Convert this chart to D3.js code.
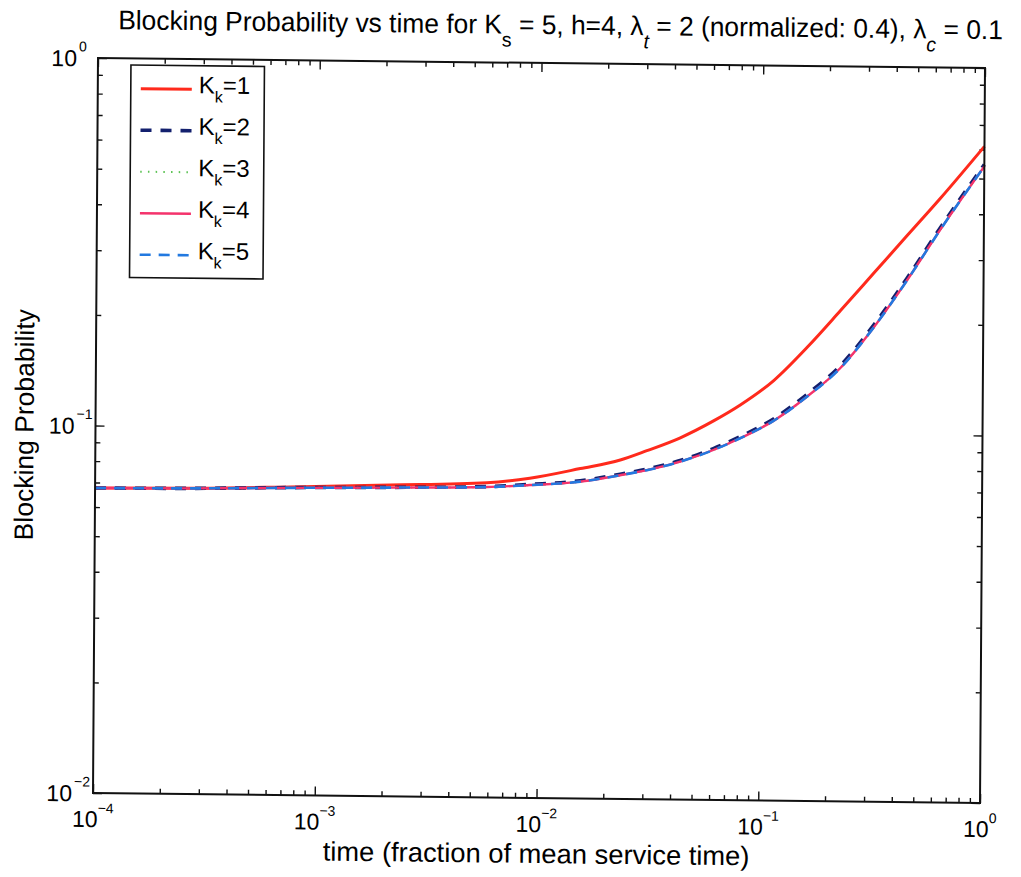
<!DOCTYPE html>
<html>
<head>
<meta charset="utf-8">
<script src="https://cdn.jsdelivr.net/npm/d3@7"></script>
<style>
body { margin: 0; background: #fff; }
text { font-family: "Liberation Sans", Arial, Helvetica, sans-serif; fill: #000; }
</style>
</head>
<body>
<svg id="chart" width="1021" height="877"></svg>
<script>
// values (time axis is log, prob axis is log)
var times = [1e-4, 2.68e-4, 7.59e-4, 2.14e-3, 5.85e-3, 9.12e-3, 0.0154, 0.0233, 0.0307, 0.0434,
             0.0612, 0.0807, 0.114, 0.161, 0.227, 0.320, 0.451, 0.634, 1.0];
var kk1 = [0.0676, 0.0679, 0.0690, 0.0703, 0.0718, 0.0741, 0.0790, 0.0836, 0.0888, 0.0965,
           0.1075, 0.1190, 0.1390, 0.1716, 0.2165, 0.2745, 0.3480, 0.4400, 0.612];
var kk2 = [0.0676, 0.0679, 0.0687, 0.0693, 0.0701, 0.0713, 0.0732, 0.0765, 0.0791, 0.0837,
           0.0904, 0.0976, 0.1093, 0.1277, 0.1531, 0.1978, 0.2660, 0.3655, 0.546];
var kk3 = [0.0676, 0.0679, 0.0686, 0.0692, 0.0699, 0.0710, 0.0728, 0.0760, 0.0786, 0.0831,
           0.0896, 0.0966, 0.1080, 0.1259, 0.1509, 0.1950, 0.2625, 0.3610, 0.540];
var kk4 = [0.0676, 0.0679, 0.0686, 0.0692, 0.0699, 0.0710, 0.0728, 0.0760, 0.0786, 0.0831,
           0.0896, 0.0966, 0.1080, 0.1259, 0.1509, 0.1950, 0.2625, 0.3610, 0.540];
var kk5 = [0.0676, 0.0679, 0.0686, 0.0692, 0.0699, 0.0710, 0.0728, 0.0760, 0.0786, 0.0831,
           0.0896, 0.0966, 0.1080, 0.1259, 0.1509, 0.1950, 0.2625, 0.3610, 0.540];
var seriesNames = ["1", "2", "3", "4", "5"];

var xMajor = [1e-4, 1e-3, 1e-2, 1e-1, 1];
var xExp = ["\u22124", "\u22123", "\u22122", "\u22121", "0"];
var yMajor = [1e-2, 1e-1, 1];
var yExp = ["\u22122", "\u22121", "0"];

// plot frame (window.top is reserved, so prefixed names)
var pLeft = 98, pRight = 985, pTop = 58, pBottom = 793;

var styles = [
	{color: "#ff2a1c", width: 3, dash: null},
	{color: "#13206e", width: 3.6, dash: "11,9"},
	{color: "#5cc254", width: 2, dash: "1.5,6.2"},
	{color: "#f4336c", width: 2.4, dash: null},
	{color: "#2279e0", width: 2.6, dash: "11,8"}
];

var svg = d3.select("#chart");
// the scan is slightly tilted, so the whole figure goes into a skewed group
var g = svg.append("g").attr("transform", "matrix(1,0.011274,-0.006803,1,0.3946,-1.1049)");

var x = d3.scaleLog().domain([1e-4, 1]).range([pLeft, pRight]);
var y = d3.scaleLog().domain([1e-2, 1]).range([pBottom, pTop]);

function isMajor(v) {
	var l = Math.log10(v);
	return Math.abs(l - Math.round(l)) < 1e-9;
}
var xMinor = x.ticks().filter(function(v) { return !isMajor(v); });
var yMinor = y.ticks().filter(function(v) { return !isMajor(v); });

function addAxis(axis, tr, vals, size) {
	g.append("g").attr("transform", tr)
	  .call(axis.tickValues(vals).tickSizeInner(-size).tickSizeOuter(0).tickFormat(""))
	  .call(function(a) { a.select(".domain").remove(); a.selectAll("text").remove(); })
	  .selectAll("line").attr("stroke", "#111").attr("stroke-width", 1.4);
}
addAxis(d3.axisBottom(x), "translate(0," + pBottom + ")", xMinor, 5);
addAxis(d3.axisBottom(x), "translate(0," + pBottom + ")", xMajor, 9);
addAxis(d3.axisTop(x), "translate(0," + pTop + ")", xMinor, 5);
addAxis(d3.axisTop(x), "translate(0," + pTop + ")", xMajor, 9);
addAxis(d3.axisLeft(y), "translate(" + pLeft + ",0)", yMinor, 5);
addAxis(d3.axisLeft(y), "translate(" + pLeft + ",0)", yMajor, 9);
addAxis(d3.axisRight(y), "translate(" + pRight + ",0)", yMinor, 5);
addAxis(d3.axisRight(y), "translate(" + pRight + ",0)", yMajor, 9);

// curves
var line = d3.line()
	.x(function(d, i) { return x(times[i]); })
	.y(function(d) { return y(d); })
	.curve(d3.curveMonotoneX);

var allSeries = [kk1, kk2, kk3, kk4, kk5];
g.append("g").selectAll("path")
  .data(allSeries)
  .enter().append("path")
  .attr("d", line)
  .attr("fill", "none")
  .attr("stroke", function(d, i) { return styles[i].color; })
  .attr("stroke-width", function(d, i) { return styles[i].width; })
  .attr("stroke-dasharray", function(d, i) { return styles[i].dash; });

// box
g.append("rect")
  .attr("x", pLeft).attr("y", pTop)
  .attr("width", pRight - pLeft).attr("height", pBottom - pTop)
  .attr("fill", "none").attr("stroke", "#111").attr("stroke-width", 2);

// tick labels
var xl = g.append("g").selectAll("text")
  .data(xMajor).enter().append("text")
  .attr("x", function(d) { return x(d); })
  .attr("y", pBottom + 34)
  .attr("text-anchor", "middle")
  .style("font-size", "23px");
xl.append("tspan").text("10");
xl.append("tspan").attr("dy", -14).style("font-size", "14px")
  .text(function(d, i) { return xExp[i]; });

var yl = g.append("g").selectAll("g")
  .data(yMajor).enter().append("g");
yl.append("text")
  .attr("x", pLeft - 21)
  .attr("y", function(d) { return y(d) + 8.5; })
  .attr("text-anchor", "end")
  .style("font-size", "23px")
  .text("10");
yl.append("text")
  .attr("x", pLeft - 19)
  .attr("y", function(d) { return y(d) - 6.5; })
  .style("font-size", "14px")
  .text(function(d, i) { return yExp[i]; });

// squeeze a text group horizontally so it spans the measured width
function fitWidth(grp, txt, ax, ay, target) {
	var s = target / txt.node().getBBox().width;
	grp.attr("transform", "translate(" + ax + "," + ay + ") scale(" + s + ",1) translate(" + (-ax) + "," + (-ay) + ")");
}

// title
var titleX = 118, titleY = 29;
var tg = g.append("g");
var title = tg.append("text").attr("x", titleX).attr("y", titleY).style("font-size", "27px");
title.append("tspan").text("Blocking Probability vs time for K");
title.append("tspan").attr("dy", 13).style("font-size", "20px").text("s");
title.append("tspan").attr("dy", -13).text(" = 5, h=4, \u03bb");
title.append("tspan").attr("dy", 13).style("font-size", "20px").style("font-style", "italic").text("t");
title.append("tspan").attr("dy", -13).text(" = 2 (normalized: 0.4), \u03bb");
title.append("tspan").attr("dy", 13).style("font-size", "20px").style("font-style", "italic").text("c");
title.append("tspan").attr("dy", -13).text(" = 0.1");
fitWidth(tg, title, titleX, titleY, 885);

// axis labels
var xlabX = (pLeft + pRight) / 2, xlabY = 858;
var xg = g.append("g");
var xlab = xg.append("text").attr("x", xlabX).attr("y", xlabY)
  .attr("text-anchor", "middle").style("font-size", "27px")
  .text("time (fraction of mean service time)");
fitWidth(xg, xlab, xlabX, xlabY, 427);

g.append("text")
  .attr("transform", "translate(36," + ((pTop + pBottom) / 2) + ") rotate(-90)")
  .attr("text-anchor", "middle")
  .style("font-size", "26.5px")
  .text("Blocking Probability");

// legend
var legX = 131, legY = 64.6, legW = 133.5, legH = 212.5;
var leg = g.append("g");
leg.append("rect")
  .attr("x", legX).attr("y", legY).attr("width", legW).attr("height", legH)
  .attr("fill", "#fff").attr("stroke", "#111").attr("stroke-width", 1.6);
var items = leg.selectAll("g.item")
  .data(seriesNames).enter().append("g")
  .attr("class", "item")
  .attr("transform", function(d, i) { return "translate(0," + (legY + 23.6 + i * 41.5) + ")"; });
items.append("line")
  .attr("x1", legX + 10).attr("x2", legX + 61)
  .attr("y1", 0).attr("y2", 0)
  .attr("stroke", function(d, i) { return styles[i].color; })
  .attr("stroke-width", function(d, i) { return styles[i].width; })
  .attr("stroke-dasharray", function(d, i) { return styles[i].dash; });
var lt = items.append("text")
  .attr("x", legX + 68).attr("y", 4)
  .style("font-size", "24px");
lt.append("tspan").text("K");
lt.append("tspan").attr("dy", 9).style("font-size", "16px").text("k");
lt.append("tspan").attr("dy", -9).text(function(d) { return "=" + d; });
</script>
</body>
</html>
